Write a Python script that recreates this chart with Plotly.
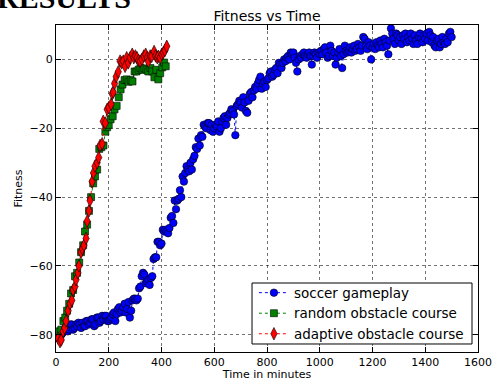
import plotly.graph_objects as go

# ---------------- data ----------------
soccer_t = [
    10, 15, 20, 25, 30, 35, 40, 45, 50, 55, 60, 65, 70, 75, 80, 85, 90, 95, 100, 105,
    110, 115, 120, 125, 130, 135, 140, 145, 150, 155, 160, 165, 170, 175, 180, 185, 190, 195, 200, 205,
    210, 215, 220, 225, 230, 235, 240, 245, 250, 255, 260, 265, 270, 275, 280, 285, 290, 295, 300, 305,
    310, 315, 320, 325, 330, 335, 340, 345, 350, 355, 360, 365, 370, 375, 380, 385, 390, 395, 400, 405,
    410, 415, 420, 425, 430, 435, 440, 445, 450, 455, 460, 465, 470, 475, 480, 485, 490, 495, 500, 505,
    510, 515, 520, 525, 530, 535, 540, 545, 550, 555, 560, 565, 570, 575, 580, 585, 590, 595, 600, 605,
    610, 615, 620, 625, 630, 635, 640, 645, 650, 655, 660, 665, 670, 675, 680, 685, 690, 695, 700, 705,
    710, 715, 720, 725, 730, 735, 740, 745, 750, 755, 760, 765, 770, 775, 780, 785, 790, 795, 800, 805,
    810, 815, 820, 825, 830, 835, 840, 845, 850, 855, 860, 865, 870, 875, 880, 885, 890, 895, 900, 905,
    910, 915, 920, 925, 930, 935, 940, 945, 950, 955, 960, 965, 970, 975, 980, 985, 990, 995, 1000, 1005,
    1010, 1015, 1020, 1025, 1030, 1035, 1040, 1045, 1050, 1055, 1060, 1065, 1070, 1075, 1080, 1085, 1090, 1095, 1100, 1105,
    1110, 1115, 1120, 1125, 1130, 1135, 1140, 1145, 1150, 1155, 1160, 1165, 1170, 1175, 1180, 1185, 1190, 1195, 1200, 1205,
    1210, 1215, 1220, 1225, 1230, 1235, 1240, 1245, 1250, 1255, 1260, 1265, 1270, 1275, 1280, 1285, 1290, 1295, 1300, 1305,
    1310, 1315, 1320, 1325, 1330, 1335, 1340, 1345, 1350, 1355, 1360, 1365, 1370, 1375, 1380, 1385, 1390, 1395, 1400, 1405,
    1410, 1415, 1420, 1425, 1430, 1435, 1440, 1445, 1450, 1455, 1460, 1465, 1470, 1475, 1480, 1485, 1490, 1495, 1500,
]
soccer_fit = [
    -81, -80.5, -80, -79.5, -79, -78, -78, -79, -78.5, -77, -77, -78.5, -78, -77, -77.5, -76.5, -77, -78, -76.5, -77.5,
    -77.5, -76, -76, -77, -76.5, -75.5, -75.5, -77.5, -77, -75, -75, -76.5, -76, -74.5, -75.5, -74.5, -74.5, -76, -76, -75.5,
    -75, -74, -73.5, -76, -74, -72.5, -72, -73.5, -73, -72, -71, -73.5, -72.5, -70.5, -75, -73, -70, -69.5, -69.5, -70,
    -69.5, -66.5, -66, -63, -62, -62.5, -65, -64.5, -64, -65.5, -63.5, -63, -58, -57.5, -57.5, -53, -53, -54, -53.5, -49.5,
    -50, -49.5, -50, -50.5, -49, -46, -45.5, -47.5, -41, -43.5, -41, -40.5, -38, -40, -34, -35.5, -33, -31, -32, -32.5,
    -30, -32, -29, -28, -25.5, -26, -23, -25, -22, -22.5, -19, -19.5, -20, -18.5, -18.5, -20.5, -19, -21, -20, -19,
    -19.5, -18, -21, -20, -18, -17, -16.5, -19, -17, -16, -15.5, -14.5, -15, -16, -22, -13.5, -13, -12, -12.5, -14,
    -11, -12.5, -15, -15.5, -12, -10, -9.5, -11, -9, -8, -8.5, -7, -6, -5, -8.5, -7, -6.5, -8, -6, -5.5,
    -4, -3.5, -5, -4.5, -3, -2.5, -4, -1, -1.5, -2.5, -1, 0, -0.5, 0.5, 1, 0, 2, 1.5, 2, 0.5,
    -1, -3.5, 0, 1, 0.5, 1.5, 2, 1, 0.5, 1.5, 2, 1, -1.5, 1, 2, 1.5, 0.5, 2, 1.5, 2.5,
    1.5, 3, 3.5, 2, 0.5, 1, 4, 2.5, 1, 2, -1.5, 0.5, 2, 3, 1, -2.5, 1.5, 4, 2.5, 2,
    2.5, 3.5, 2, 3, 4, 2.5, 3, 4.5, 3.5, 2.5, 4, 6.5, 6, 4, 3, 5, 4, 0, 3.5, 4.5,
    3, 5, 4, 3.5, 5.5, 4.5, 3.5, 6, 5, 4, 1.5, 5.5, 9, 7.5, 6, 4.5, 7.5, 7, 5.5, 6.5,
    4.5, 7, 6, 7.5, 5, 6.5, 5.5, 7.5, 6, 4.5, 7, 5.5, 4.5, 6.5, 7.5, 6, 5, 7, 6, 7.5,
    5.5, 8, 7, 5, 6.5, 4, 3.5, 5.5, 6, 3.5, 4.5, 6.5, 5, 4.5, 6, 5, 7.5, 8, 6.5,
]

random_t = [
    5, 12, 20, 28, 35, 42, 50, 57, 65, 72, 80, 88, 95, 103, 110, 118, 125, 133, 141, 148,
    156, 164, 172, 180, 187, 194, 200, 207, 215, 222, 230, 238, 245, 252, 260, 268, 275, 283, 290, 298,
    305, 313, 320, 328, 335, 343, 350, 358, 365, 373, 380, 388, 395, 403, 410, 416,
]
random_fit = [
    -80, -79, -78.5, -76, -75, -73, -71, -68, -67, -63, -62, -59, -56, -54, -50, -48, -44, -40, -36, -34,
    -32, -26, -25.5, -25, -21, -19.7, -19, -17.4, -16.5, -14.5, -13.5, -11, -8.7, -7.3, -6, -5.8, -6.5, -6, -6.4, -3.5,
    -3.5, -3, -2.5, -3, -2.6, -3, -3.5, -2.5, -3.5, -5.2, -3, -5.8, -4, -2.3, -0.9, -2,
]

adaptive_t = [
    8, 15, 20, 27, 33, 38, 46, 53, 60, 65, 72, 76, 83, 87, 95, 100, 106, 114, 118, 125,
    129, 137, 142, 148, 156, 162, 167, 175, 179, 187, 194, 200, 209, 213, 217, 222, 228, 236, 243, 249,
    255, 262, 268, 274, 281, 289, 295, 301, 307, 313, 319, 326, 333, 340, 346, 350, 357, 363, 372, 378,
    384, 388, 395, 401, 407, 413, 420,
]
adaptive_fit = [
    -81, -82, -81.5, -79, -78, -76, -73, -71, -70, -67, -66, -64, -62, -60, -56, -55, -54, -52, -47, -44,
    -41, -35.5, -33, -31, -30, -28.5, -25, -24.5, -18, -18.5, -14.5, -14, -13, -10, -9.5, -7, -5, -3.6, -0.5, -1,
    -0.5, -2, 0.5, -1, 0.5, 1.5, 0.5, 1, 0.5, -0.3, -0.5, 0, 1, 1.5, 0.5, -0.6, 1, 0.9, 2.3, 1,
    0.5, 0.9, 0.5, 1.5, 2, 2.6, 3.8,
]

x_ticks = [0, 200, 400, 600, 800, 1000, 1200, 1400, 1600]
y_ticks = [-80, -60, -40, -20, 0]

# ---------------- figure ----------------
fig = go.Figure()

def add_series(t, v, name, color, symbol, size):
    fig.add_trace(go.Scatter(
        x=t, y=v, name=name, mode="lines+markers",
        line=dict(color=color, width=1, dash="dot"),
        marker=dict(color=color, symbol=symbol, size=size,
                    line=dict(color="black", width=0.6)),
    ))

add_series(soccer_t, soccer_fit, "soccer gameplay", "#0000ff", "circle", 7.5)
add_series(random_t, random_fit, "random obstacle course", "#008000", "square", 7)
add_series(adaptive_t, adaptive_fit, "adaptive obstacle course", "#ff0000", "diamond-tall", 9)

axis_common = dict(
    showline=True, linecolor="black", linewidth=1, mirror="ticks",
    ticks="inside", ticklen=5, tickcolor="black", tickwidth=1,
    showgrid=True, gridcolor="rgba(0,0,0,0.55)", gridwidth=0.8, griddash="dot",
    zeroline=False, automargin=False,
    tickfont=dict(family="DejaVu Sans", size=11, color="black"),
)

fig.update_xaxes(range=[0, 1600], tickvals=x_ticks,
                 title=dict(text="Time in minutes", standoff=6,
                            font=dict(family="DejaVu Sans", size=11, color="black")),
                 **axis_common)
fig.update_yaxes(range=[-85, 10], tickvals=y_ticks,
                 title=dict(text="Fitness", standoff=4,
                            font=dict(family="DejaVu Sans", size=11, color="black")),
                 **axis_common)

fig.update_layout(
    width=496, height=381,
    margin=dict(l=56, r=18, t=25, b=29, autoexpand=False),
    plot_bgcolor="white", paper_bgcolor="white",
    title=dict(text="Fitness vs Time", x=0.5, xref="paper", xanchor="center",
               y=1 - 16 / 381, yref="container", yanchor="middle",
               font=dict(family="DejaVu Sans", size=14, color="black")),
    legend=dict(x=0.469, y=0.008, xanchor="left", yanchor="bottom",
                bgcolor="rgba(0,0,0,0)", borderwidth=0,
                font=dict(family="DejaVu Sans", size=13.5, color="black"),
                tracegroupgap=0, itemwidth=30),
    showlegend=True,
)

# legend frame (drawn below the legend entries)
fig.add_shape(type="rect", xref="paper", yref="paper",
              x0=0.4645, x1=0.9858, y0=0.0245, y1=0.211,
              line=dict(color="black", width=1), fillcolor="white", layer="above")

fig.add_annotation(
    text="<b>RESULTS</b>", xref="paper", yref="paper",
    x=-0.145, y=1.085, xanchor="left", yanchor="middle", showarrow=False,
    font=dict(family="Liberation Serif", size=30, color="black"),
)

fig.write_html("out.html", post_script="document.body.style.margin='0px';",
               config={"displayModeBar": False})
